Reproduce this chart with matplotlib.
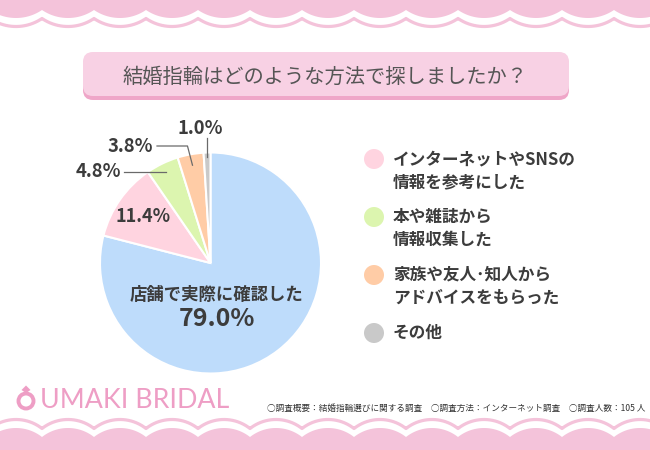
import numpy as np
import matplotlib
matplotlib.use("Agg")
import matplotlib.pyplot as plt
from matplotlib.patches import Circle, FancyBboxPatch, Polygon
from matplotlib.lines import Line2D

# ---------------- data ----------------
categories = ["店舗で実際に確認した", "インターネットやSNSの\n情報を参考にした",
              "本や雑誌から\n情報収集した", "家族や友人･知人から\nアドバイスをもらった", "その他"]
values = [79.0, 11.4, 4.8, 3.8, 1.0]
colors = ["#BEDCFB", "#FFD4E0", "#DCF5AF", "#FFCCA6", "#C9C9C9"]
title = "結婚指輪はどのような方法で探しましたか？"
footnote = "○調査概要：結婚指輪選びに関する調査　○調査方法：インターネット調査　○調査人数：105 人"
brand = "UMAKI BRIDAL"

JP = ["Noto Sans CJK JP", "DejaVu Sans"]
TXT = "#3c3c3c"
PINK_BG = "#F4C3DA"
PINK_LOGO = "#EE9EC5"

W, H = 650, 450
fig = plt.figure(figsize=(6.5, 4.5), dpi=100)
fig.patch.set_facecolor("white")

bg = fig.add_axes([0, 0, 1, 1], zorder=0)
bg.set_xlim(0, W); bg.set_ylim(H, 0); bg.axis("off")

# ---------------- scallops ----------------
def scallop(x0, width, ycusp, sag, direction, n=40):
    """arc from x0 to x0+width; direction +1 dips down (y grows), -1 bulges up"""
    h = width / 2
    R = (h * h + sag * sag) / (2 * sag)
    xm = x0 + h
    xs = np.linspace(x0, x0 + width, n)
    d = np.sqrt(R * R - (xs - xm) ** 2) - (R - sag)
    return xs, ycusp + direction * d

def scallop_row(ycusp, sag, direction):
    SW = 52
    xs_all, ys_all = [], []
    for k in range(-1, 13):
        xs, ys = scallop(42 + SW * k, SW, ycusp, sag, direction)
        xs_all.append(xs); ys_all.append(ys)
    return np.concatenate(xs_all), np.concatenate(ys_all)

# top
xs, ys = scallop_row(10, 8, +1)
poly = np.column_stack([np.r_[xs, xs[-1], xs[0]], np.r_[ys, -5, -5]])
bg.add_patch(Polygon(poly, closed=True, facecolor=PINK_BG, edgecolor="none"))
bg.plot(xs, ys + 8.5, color=PINK_BG, lw=2.3, solid_capstyle="butt")
# bottom
xs, ys = scallop_row(437, 9, -1)
poly = np.column_stack([np.r_[xs, xs[-1], xs[0]], np.r_[ys, 455, 455]])
bg.add_patch(Polygon(poly, closed=True, facecolor=PINK_BG, edgecolor="none"))
bg.plot(xs, ys - 8.5, color=PINK_BG, lw=2.3, solid_capstyle="butt")

# ---------------- title box ----------------
bg.add_patch(FancyBboxPatch((93, 65), 466, 25, boxstyle="round,pad=10,rounding_size=10",
                            facecolor="#EFA6C8", edgecolor="none"))
bg.add_patch(FancyBboxPatch((93, 62), 466, 24, boxstyle="round,pad=10,rounding_size=10",
                            facecolor="#F8D1E4", edgecolor="none"))
bg.text(325, 77, title, family=JP, fontsize=14.6, color="#555555",
        ha="center", va="center")

# ---------------- pie ----------------
cx, cy, R = 210.5, 263, 110.5
pie_ax = fig.add_axes([(cx - R) / W, (H - cy - R) / H, 2 * R / W, 2 * R / H], zorder=1)
wedges, _ = pie_ax.pie(values, colors=colors, startangle=90, counterclock=False,
                       wedgeprops=dict(edgecolor="white", linewidth=1.5))
pie_ax.set_xlim(-1, 1); pie_ax.set_ylim(-1, 1)
pie_ax.axis("off")

fg = fig.add_axes([0, 0, 1, 1], zorder=2)
fg.set_xlim(0, W); fg.set_ylim(H, 0); fg.axis("off"); fg.patch.set_alpha(0)

def mid_point(i, r):
    w = wedges[i]
    th = np.deg2rad((w.theta1 + w.theta2) / 2)
    return cx + R * r * np.cos(th), cy - R * r * np.sin(th)

# main label
fg.text(217, 295, categories[0], family=JP, fontsize=12.5, fontweight="bold",
        color=TXT, ha="center", va="center")
fg.text(217, 319, f"{values[0]:.1f}%", family=JP, fontsize=18, fontweight="bold",
        color=TXT, ha="center", va="center")

# 11.4 inside
px, py = mid_point(1, 0.74)
fg.text(px, py, f"{values[1]:.1f}%", family=JP, fontsize=13, fontweight="bold",
        color=TXT, ha="center", va="center")

LC = "#6a6a6a"
# 4.8
ax_, ay_ = mid_point(2, 0.92)
fg.add_line(Line2D([ax_, 124], [ay_, ay_], color=LC, lw=0.9))
fg.text(121, ay_, f"{values[2]:.1f}%", family=JP, fontsize=13.3, fontweight="bold",
        color=TXT, ha="right", va="center")
# 3.8
ax_, ay_ = mid_point(3, 0.90)
fg.add_line(Line2D([ax_, ax_ - 5, 157], [ay_, 146, 146], color=LC, lw=0.9))
fg.text(153, 146, f"{values[3]:.1f}%", family=JP, fontsize=13.3, fontweight="bold",
        color=TXT, ha="right", va="center")
# 1.0
ax_, ay_ = mid_point(4, 0.96)
fg.add_line(Line2D([ax_, ax_], [ay_, 138], color=LC, lw=0.9))
fg.text(ax_ - 7, 129, f"{values[4]:.1f}%", family=JP, fontsize=13.3, fontweight="bold",
        color=TXT, ha="center", va="center")

# ---------------- legend ----------------
leg_y = [159, 217, 275, 333]
for k, (lab, col) in enumerate(zip(categories[1:], colors[1:])):
    y0 = leg_y[k]
    fg.add_patch(Circle((374, y0), 10, facecolor=col, edgecolor="none"))
    for j, line in enumerate(lab.split("\n")):
        fg.text(393, y0 + 23 * j, line, family=JP, fontsize=12, fontweight="bold",
                color=TXT, ha="left", va="center")

# ---------------- logo ----------------
fg.add_patch(Circle((26, 401), 7.5, facecolor="none", edgecolor=PINK_LOGO, lw=2.8))
fg.add_patch(Polygon([[21.5, 390], [26, 385.5], [30.5, 390], [26, 393]], closed=True,
                     facecolor=PINK_LOGO, edgecolor="none"))
fg.text(40, 400, brand, family=["Lato", "DejaVu Sans"], fontweight="normal",
        fontsize=19.3, color=PINK_LOGO, ha="left", va="center")

# ---------------- footnote ----------------
fg.text(645, 408, footnote, family=JP, fontsize=6.2, color="#333333",
        ha="right", va="center")

fig.savefig("out.png", dpi=100, facecolor="white")
